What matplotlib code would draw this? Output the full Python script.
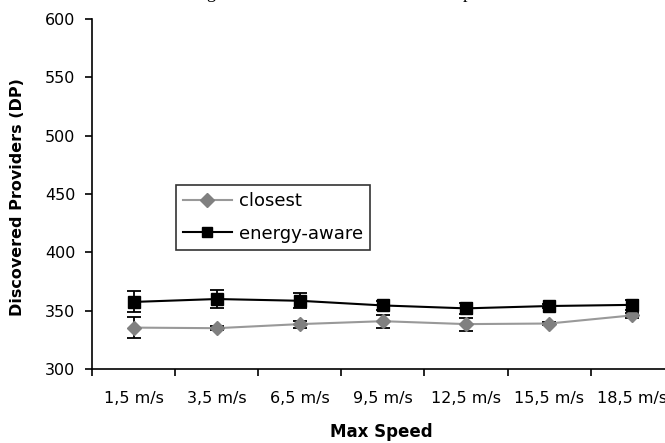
import matplotlib
matplotlib.use("Agg")
import matplotlib.pyplot as plt

# data
speeds = ["1,5 m/s", "3,5 m/s", "6,5 m/s", "9,5 m/s", "12,5 m/s", "15,5 m/s", "18,5 m/s"]
closest = [335.5, 335, 338.5, 341, 338.5, 339, 346]
closest_err = [9, 1.5, 3, 5.5, 5.5, 1.5, 2]
energy = [357.5, 360, 358.5, 354.5, 352, 354, 355]
energy_err = [9, 7.5, 6.5, 4, 4.5, 2, 4]

plt.rcParams['font.family'] = ['DejaVu Sans']

fig = plt.figure(figsize=(6.65, 4.43), dpi=100)
ax = fig.add_axes([0.1383, 0.167, 0.875, 0.790])

x = list(range(len(speeds)))
ax.errorbar(x, closest, yerr=closest_err, color='#999999', lw=1.5,
            marker='D', ms=7, mfc='#808080', mec='#808080',
            ecolor='black', elinewidth=1.3, capsize=5, capthick=1.3,
            label='closest', zorder=3)
ax.errorbar(x, energy, yerr=energy_err, color='black', lw=1.5,
            marker='s', ms=9, mfc='black', mec='black',
            ecolor='black', elinewidth=1.3, capsize=5, capthick=1.3,
            label='energy-aware', zorder=4)

ax.set_xlim(-0.5, len(speeds) - 0.5)
ax.set_ylim(300, 600)
ax.set_yticks(range(300, 601, 50))
ax.set_xticks(x)
ax.set_xticklabels(speeds)
ax.set_xticks([i - 0.5 for i in range(len(speeds) + 1)], minor=True)
ax.tick_params(axis='x', which='major', length=0, pad=16, labelsize=11.5)
ax.tick_params(axis='x', which='minor', length=5, width=1.2, direction='out')
ax.tick_params(axis='y', length=5, width=1.2, direction='out', pad=7, labelsize=11.5)

for s in ['top', 'right']:
    ax.spines[s].set_visible(False)
for s in ['left', 'bottom']:
    ax.spines[s].set_linewidth(1.2)

ax.set_ylabel("Discovered Providers (DP)", fontsize=11.5, fontweight='bold')
ax.yaxis.set_label_coords(-0.115, 0.49)
ax.set_xlabel("Max Speed", fontsize=12, fontweight='bold')
ax.xaxis.set_label_coords(0.497, -0.155)

handles, labels = ax.get_legend_handles_labels()
handles = [h[0] for h in handles]
leg = ax.legend(handles, labels, loc='upper left', bbox_to_anchor=(0.144, 0.526),
                borderaxespad=0, fontsize=13, frameon=True, fancybox=False,
                edgecolor='black', handlelength=2.7, handletextpad=0.4,
                borderpad=0.4, labelspacing=0.8)
leg.get_frame().set_linewidth(1.2)
for h in leg.legend_handles:
    h.set_markersize(7)

# cut-off caption fragments at the top edge
fig.text(0.31, 1.0 + 1.5 / 443, "g", family="Liberation Serif", fontsize=13, va='baseline')
fig.text(0.683, 1.0 + 1.5 / 443, "_p", family="Liberation Serif", fontsize=13, va='baseline')

fig.savefig("out.png", dpi=100)
